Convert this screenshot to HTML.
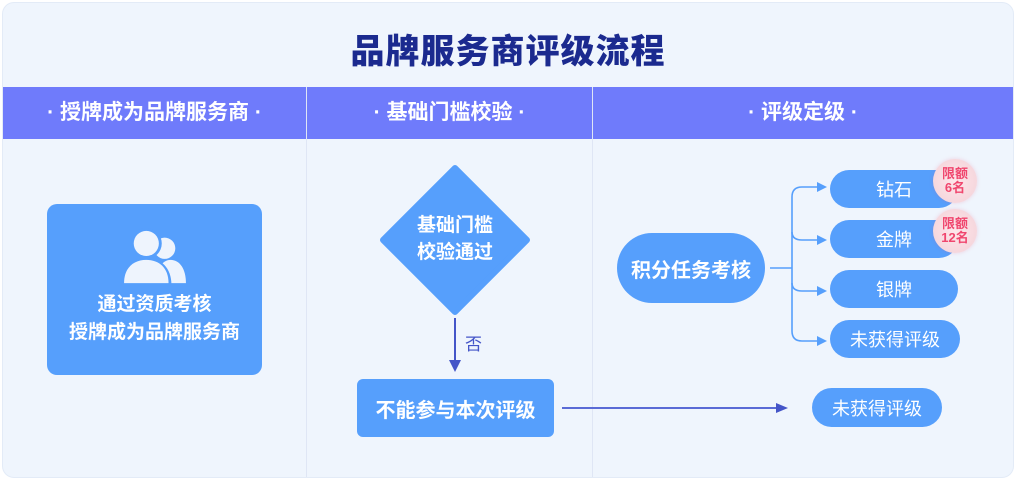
<!DOCTYPE html>
<html><head><meta charset="utf-8"><style>
*{margin:0;padding:0;box-sizing:border-box}
body{width:1016px;height:482px;background:#fff;font-family:"Liberation Sans","Noto Sans CJK SC",sans-serif;position:relative;overflow:hidden}
.panel{position:absolute;left:2px;top:2px;width:1012px;height:476px;background:#eff5fd;border-radius:12px;border:1px solid #e3ebf7}
.abs{position:absolute}
.title{left:0;width:1016px;top:24px;text-align:center;font-size:34px;font-weight:900;color:#1b2a8f;letter-spacing:1px}
.band{left:3px;top:87px;width:1010px;height:52px;background:#6f7bfb}
.hd{top:87px;height:52px;line-height:52px;color:#fff;font-size:21px;font-weight:700;text-align:center}
.vl{width:1px;background:#dfe6f5}
.box{background:#569ffc;color:#fff;font-weight:700;display:flex;align-items:center;justify-content:center;text-align:center}
.pill{background:#569ffc;color:#fff;font-size:18px;display:flex;align-items:center;justify-content:center;border-radius:20px}
.badge{width:44px;height:44px;border-radius:50%;background:radial-gradient(circle,#fde6ea 0,#f6d7dd 70%,#f1cfd6 100%);color:#f0466e;font-size:13px;font-weight:700;line-height:14px;text-align:center;display:flex;align-items:center;justify-content:center;box-shadow:0 0 4px rgba(240,70,110,.2)}
</style></head><body>
<div class="panel"></div>
<div class="abs title">品牌服务商评级流程</div>
<div class="abs band"></div>
<div class="abs vl" style="left:306px;top:87px;height:390px"></div>
<div class="abs vl" style="left:592px;top:87px;height:390px"></div>
<div class="abs hd" style="left:3px;width:303px">· 授牌成为品牌服务商 ·</div>
<div class="abs hd" style="left:307px;width:285px">· 基础门槛校验 ·</div>
<div class="abs hd" style="left:593px;width:420px">· 评级定级 ·</div>

<div class="abs box" style="left:47px;top:204px;width:215px;height:171px;border-radius:10px;flex-direction:column;font-size:19px;line-height:28px;padding-bottom:6px">
<svg width="76" height="58" viewBox="0 0 76 60" style="margin-bottom:6px"><circle cx="48" cy="22" r="11" fill="#eef4fd"/><path d="M40 58 C40 42 46 34 54 34 C64 34 70 44 70 58Z" fill="#eef4fd"/><circle cx="29" cy="17" r="16" fill="#569ffc"/><circle cx="29" cy="17" r="13" fill="#eef4fd"/><path d="M3 60 C3 42 14 32 29 32 C44 32 55 42 55 60Z" fill="#569ffc"/><path d="M6 58 C6 42 16 34 29 34 C42 34 52 42 52 58Z" fill="#eef4fd"/></svg>
<div>通过资质考核<br>授牌成为品牌服务商</div></div>

<svg class="abs" style="left:0;top:0" width="1016" height="482">
<polygon points="455,168 527,240 455,312 383,240" fill="#569ffc" stroke="#569ffc" stroke-width="6" stroke-linejoin="round"/>
<line x1="455" y1="318" x2="455" y2="362" stroke="#4455c8" stroke-width="2"/>
<polygon points="449,360 461,360 455,372" fill="#4455c8"/>
<line x1="562" y1="408" x2="778" y2="408" stroke="#5a6bd6" stroke-width="2"/>
<polygon points="776,403 788,408 776,413" fill="#4455c8"/>
<g stroke="#569ffc" stroke-width="1.6" fill="none">
<line x1="770" y1="268" x2="792" y2="268"/>
<path d="M819 187 H802 Q792 187 792 197 V331 Q792 341 802 341 H819"/>
<path d="M792 232 Q792 240 802 240 H819"/>
<path d="M792 283 Q792 291 802 291 H819"/>
</g>
<g fill="#569ffc"><polygon points="817,182 827,187 817,192"/><polygon points="817,235 827,240 817,245"/><polygon points="817,286 827,291 817,296"/><polygon points="817,336 827,341 817,346"/></g>
</svg>
<div class="abs" style="left:383px;top:212px;width:144px;text-align:center;color:#fff;font-size:19px;font-weight:700;line-height:27px">基础门槛<br>校验通过</div>
<div class="abs" style="left:465px;top:330px;color:#4455c8;font-size:17px">否</div>
<div class="abs box" style="left:357px;top:379px;width:197px;height:58px;border-radius:6px;font-size:20px">不能参与本次评级</div>

<div class="abs box" style="left:617px;top:233px;width:148px;height:70px;border-radius:35px;font-size:20px">积分任务考核</div>
<div class="abs pill" style="left:830px;top:170px;width:128px;height:38px">钻石</div>
<div class="abs pill" style="left:830px;top:220px;width:128px;height:38px">金牌</div>
<div class="abs pill" style="left:830px;top:270px;width:128px;height:38px">银牌</div>
<div class="abs pill" style="left:830px;top:320px;width:130px;height:38px">未获得评级</div>
<div class="abs pill" style="left:812px;top:388px;width:130px;height:39px">未获得评级</div>
<div class="abs badge" style="left:933px;top:159px">限额<br>6名</div>
<div class="abs badge" style="left:933px;top:209px">限额<br>12名</div>
</body></html>
